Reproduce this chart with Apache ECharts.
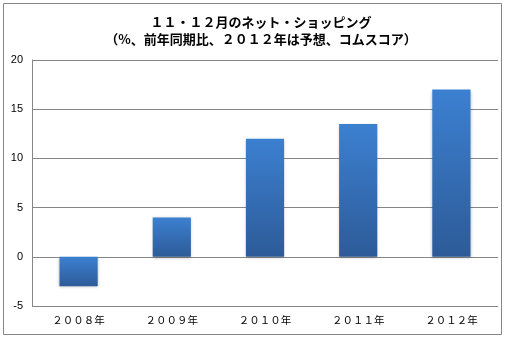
<!DOCTYPE html>
<html>
<head>
<meta charset="utf-8">
<script src="https://cdn.jsdelivr.net/npm/echarts@6/dist/echarts.min.js"></script>
<style>
  html, body { margin: 0; padding: 0; background: #fff; }
  #chart { width: 515px; height: 339px; }
</style>
</head>
<body>
<div id="chart"></div>
<script>
// Online shopping growth in Nov–Dec, year over year (%)
const titleLines = ['１１・１２月のネット・ショッピング', '（%、前年同期比、２０１２年は予想、コムスコア）'];
const categories = ['２００８年', '２００９年', '２０１０年', '２０１１年', '２０１２年'];
const growth = [-3, 4, 12, 13.5, 17];
const yTicks = { min: -5, max: 20, interval: 5 };

const chart = echarts.init(document.getElementById('chart'));

const barFill = new echarts.graphic.LinearGradient(0, 0, 0, 1, [
  { offset: 0, color: '#3c80d1' },
  { offset: 1, color: '#2d5b98' }
]);

chart.setOption({
  animation: false,
  backgroundColor: '#ffffff',
  graphic: [{
    type: 'rect',
    shape: { x: 3.5, y: 3.5, width: 498, height: 331 },
    style: { fill: 'none', stroke: '#868686', lineWidth: 1 },
    z: -1
  }],
  title: {
    text: titleLines.join('\n'),
    left: 256,
    textAlign: 'center',
    top: 9,
    textStyle: {
      fontFamily: 'Noto Sans CJK JP',
      fontSize: 13,
      fontWeight: 'bold',
      color: '#000',
      lineHeight: 17
    }
  },
  grid: { left: 32, right: 17, top: 60, bottom: 33, containLabel: false },
  xAxis: {
    type: 'category',
    data: categories,
    axisLine: { show: false },
    axisTick: { show: false },
    axisLabel: {
      fontFamily: 'Noto Sans CJK JP',
      fontSize: 10.5,
      color: '#000',
      margin: 9
    },
    position: 'bottom'
  },
  yAxis: {
    type: 'value',
    min: yTicks.min,
    max: yTicks.max,
    interval: yTicks.interval,
    axisLine: { show: true, lineStyle: { color: '#868686' } },
    axisTick: { show: false },
    axisLabel: {
      fontFamily: 'Liberation Sans',
      fontSize: 11,
      color: '#000',
      margin: 9
    },
    splitLine: { show: true, lineStyle: { color: '#868686', width: 1 } }
  },
  series: [{
    type: 'bar',
    data: growth,
    barWidth: '41%',
    itemStyle: {
      color: barFill,
      shadowColor: 'rgba(0,0,0,0.25)',
      shadowBlur: 3,
      shadowOffsetY: 1
    }
  }]
});
</script>
</body>
</html>
